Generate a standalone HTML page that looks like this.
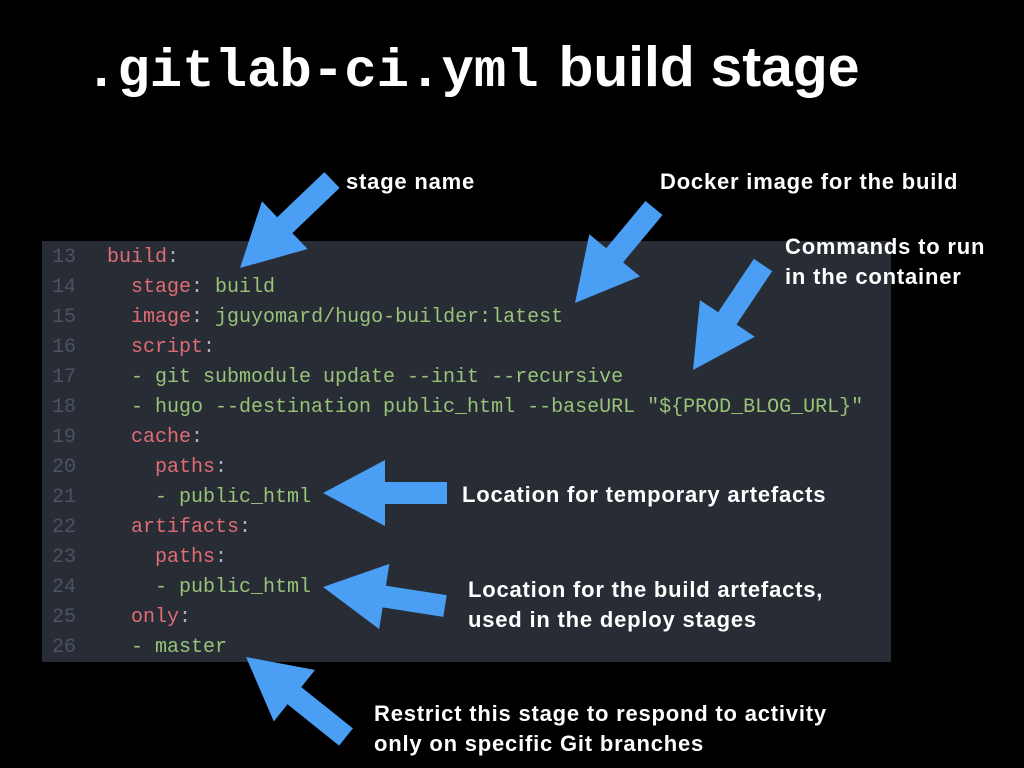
<!DOCTYPE html>
<html><head><meta charset="utf-8"><style>
body{margin:0;width:1024px;height:768px;background:#000;overflow:hidden;position:relative;font-family:"Liberation Sans",sans-serif}
.t{position:absolute;left:85px;top:32px;color:#fff;white-space:nowrap;line-height:70px}
.t .m{font-family:"Liberation Mono",monospace;font-weight:bold;font-size:54px}
.t .s{font-size:57px;font-weight:bold;margin-left:4px}
.code{position:absolute;left:42px;top:241px;width:849px;height:421px;background:#282c34}
.ln{position:absolute;left:0;top:243px;width:100%;font-family:"Liberation Mono",monospace;font-size:20px;line-height:30px}
.row{position:absolute;left:0;white-space:pre;height:30px}
.n{position:absolute;left:52px;color:#4b5263}
.c{position:absolute;left:107px;color:#98c379}
.k{color:#e06c75}.p{color:#abb2bf}
.l{position:absolute;color:#fff;font-weight:bold;font-size:22px;letter-spacing:0.8px;line-height:30px;white-space:nowrap}
svg{position:absolute;left:0;top:0}
</style></head><body>
<div class="t"><span class="m">.gitlab-ci.yml</span><span class="s"> build stage</span></div>
<div class="code"></div>
<div class="ln">
<div class="row" style="top:0"><span class="n">13</span><span class="c"><span class="k">build</span><span class="p">:</span></span></div>
<div class="row" style="top:30px"><span class="n">14</span><span class="c">  <span class="k">stage</span><span class="p">:</span> build</span></div>
<div class="row" style="top:60px"><span class="n">15</span><span class="c">  <span class="k">image</span><span class="p">:</span> jguyomard/hugo-builder:latest</span></div>
<div class="row" style="top:90px"><span class="n">16</span><span class="c">  <span class="k">script</span><span class="p">:</span></span></div>
<div class="row" style="top:120px"><span class="n">17</span><span class="c">  - git submodule update --init --recursive</span></div>
<div class="row" style="top:150px"><span class="n">18</span><span class="c">  - hugo --destination public_html --baseURL "${PROD_BLOG_URL}"</span></div>
<div class="row" style="top:180px"><span class="n">19</span><span class="c">  <span class="k">cache</span><span class="p">:</span></span></div>
<div class="row" style="top:210px"><span class="n">20</span><span class="c">    <span class="k">paths</span><span class="p">:</span></span></div>
<div class="row" style="top:240px"><span class="n">21</span><span class="c">    - public_html</span></div>
<div class="row" style="top:270px"><span class="n">22</span><span class="c">  <span class="k">artifacts</span><span class="p">:</span></span></div>
<div class="row" style="top:300px"><span class="n">23</span><span class="c">    <span class="k">paths</span><span class="p">:</span></span></div>
<div class="row" style="top:330px"><span class="n">24</span><span class="c">    - public_html</span></div>
<div class="row" style="top:360px"><span class="n">25</span><span class="c">  <span class="k">only</span><span class="p">:</span></span></div>
<div class="row" style="top:390px"><span class="n">26</span><span class="c">  - master</span></div>
</div>
<svg width="1024" height="768" id="s"></svg>
<div class="l" style="left:346px;top:167px">stage name</div>
<div class="l" style="left:660px;top:167px">Docker image for the build</div>
<div class="l" style="left:785px;top:232px">Commands to run<br>in the container</div>
<div class="l" style="left:462px;top:480px">Location for temporary artefacts</div>
<div class="l" style="left:468px;top:575px">Location for the build artefacts,<br>used in the deploy stages</div>
<div class="l" style="left:374px;top:699px">Restrict this stage to respond to activity<br>only on specific Git branches</div>
<script>
var A=[[240,268,332,180],[575,303,654,208],[693,370,763,265],[323,493,447,493],[323,587,445,606],[246,657,346,737]];
var s='';
A.forEach(function(a){var tx=a[0],ty=a[1],ex=a[2],ey=a[3];var dx=ex-tx,dy=ey-ty,L=Math.hypot(dx,dy);var ux=dx/L,uy=dy/L,px=-uy,py=ux;var H=62,W=33,w=11;
function p(d,o){return (tx+ux*d+px*o).toFixed(1)+','+(ty+uy*d+py*o).toFixed(1)}
s+='<polygon fill="#4a9ff5" points="'+[p(0,0),p(H,W),p(H,w),p(L,w),p(L,-w),p(H,-w),p(H,-W)].join(' ')+'"/>';});
document.getElementById('s').innerHTML=s;
</script>
</body></html>
